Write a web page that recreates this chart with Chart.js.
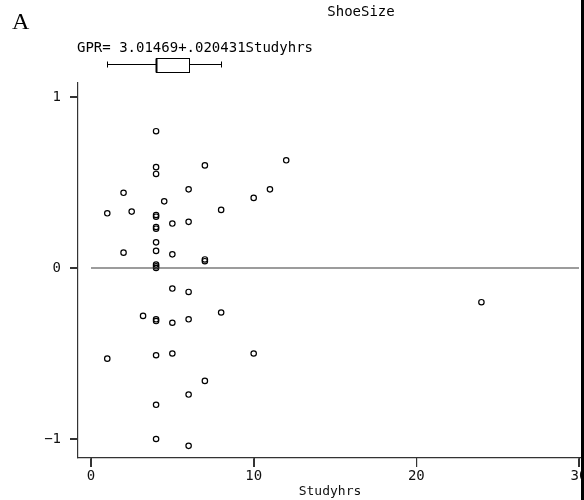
<!DOCTYPE html>
<html>
<head>
<meta charset="utf-8">
<script src="https://cdn.jsdelivr.net/npm/chart.js@4"></script>
<style>
  html, body { margin: 0; padding: 0; background: #fff; overflow: hidden; width: 584px; height: 500px; }
  canvas { display: block; }
</style>
</head>
<body>
<canvas id="myChart" width="600" height="500"></canvas>
<script>
// residuals of ShoeSize vs Studyhrs
const studyHrs = [4, 4, 4, 7, 12, 2, 6, 11, 10, 4.5, 1, 2.5, 8, 4, 4, 4, 4, 5, 6, 4,
  2, 4, 5, 7, 7, 4, 4, 4, 5, 6, 3.2, 4, 4, 5, 6, 8, 1, 4, 5, 10, 7, 6, 4, 4, 6, 24];
const residuals = [0.80, 0.59, 0.55, 0.60, 0.63, 0.44, 0.46, 0.46, 0.41, 0.39, 0.32, 0.33, 0.34, 0.31, 0.30, 0.24, 0.23, 0.26, 0.27, 0.15,
  0.09, 0.10, 0.08, 0.04, 0.05, 0.02, 0.01, 0.00, -0.12, -0.14, -0.28, -0.30, -0.31, -0.32, -0.30, -0.26, -0.53, -0.51, -0.50, -0.50, -0.66, -0.74, -0.80, -1.00, -1.04, -0.20];
const fitX = [0, 30];
const fitY = [0, 0];
// boxplot of Studyhrs: lower whisker, q1, median, q3, upper whisker
const studyBox = [1, 4, 4, 6, 8];
const xTicks = [0, 10, 20, 30];
const yTicks = [-1, 0, 1];
const yTickLabels = ["\u22121", "0", "1"];

const monoFont = "'DejaVu Sans Mono', monospace";

const extrasPlugin = {
  id: "extras",
  afterDraw(chart) {
    const ctx = chart.ctx;
    const xs = chart.scales.x;
    const ys = chart.scales.y;
    const area = chart.chartArea;
    ctx.save();
    // tick marks, outside the axes
    ctx.strokeStyle = "#333";
    ctx.lineWidth = 1;
    ctx.beginPath();
    xTicks.forEach((v) => {
      const px = Math.round(xs.getPixelForValue(v)) + 0.5;
      ctx.moveTo(px, area.bottom);
      ctx.lineTo(px, area.bottom + 9);
    });
    yTicks.forEach((v) => {
      const py = Math.round(ys.getPixelForValue(v)) + 0.5;
      ctx.moveTo(area.left - 8, py);
      ctx.lineTo(area.left, py);
    });
    ctx.stroke();
    // panel letter
    ctx.fillStyle = "#000";
    ctx.font = "24px 'Liberation Serif', serif";
    ctx.textAlign = "left";
    ctx.textBaseline = "alphabetic";
    ctx.fillText("A", 12, 29);
    // title + axis title (the plot is cut off at the right, so centred by hand)
    ctx.font = "14px " + monoFont;
    ctx.textAlign = "center";
    ctx.textBaseline = "middle";
    ctx.fillText("ShoeSize", 361, 12);
    ctx.font = "13px " + monoFont;
    ctx.fillStyle = "#111";
    ctx.fillText("Studyhrs", 330, 492);
    // equation
    ctx.fillStyle = "#000";
    ctx.font = "14px " + monoFont;
    ctx.textAlign = "left";
    ctx.fillText("GPR= 3.01469+.020431Studyhrs", 77, 48);
    // boxplot
    const p = studyBox.map((v) => Math.round(xs.getPixelForValue(v)) + 0.5);
    const yc = 64.5, top = 58.5, bot = 72.5;
    ctx.strokeStyle = "#000";
    ctx.lineWidth = 1;
    ctx.beginPath();
    ctx.moveTo(p[0], yc); ctx.lineTo(p[1], yc);
    ctx.moveTo(p[3], yc); ctx.lineTo(p[4], yc);
    ctx.moveTo(p[0], yc - 3); ctx.lineTo(p[0], yc + 3);
    ctx.moveTo(p[4], yc - 3); ctx.lineTo(p[4], yc + 3);
    ctx.stroke();
    ctx.strokeRect(p[1], top, p[3] - p[1], bot - top);
    ctx.lineWidth = 2;
    ctx.beginPath();
    ctx.moveTo(p[2], top); ctx.lineTo(p[2], bot);
    ctx.stroke();
    // right edge bar
    ctx.fillStyle = "#000";
    ctx.fillRect(581, 0, 3, chart.height);
    ctx.restore();
  },
};

const ctx = document.getElementById("myChart").getContext("2d");
const myChart = new Chart(ctx, {
  type: "scatter",
  data: {
    datasets: [
      {
        type: "line",
        data: fitX.map((x, i) => ({ x: x, y: fitY[i] })),
        borderColor: "#3a3a3a",
        borderWidth: 1.2,
        pointRadius: 0,
        fill: false,
      },
      {
        data: studyHrs.map((x, i) => ({ x: x, y: residuals[i] })),
        pointRadius: 2.7,
        pointBorderWidth: 1.2,
        borderColor: "#000",
        backgroundColor: "rgba(255,255,255,0)",
      },
    ],
  },
  options: {
    responsive: false,
    animation: false,
    devicePixelRatio: 1,
    layout: { autoPadding: false, padding: { top: 83, left: 0, right: 0, bottom: 0 } },
    plugins: {
      legend: { display: false },
      tooltip: { enabled: false },
      title: { display: false },
    },
    scales: {
      x: {
        type: "linear",
        min: -0.8,
        max: 31.29,
        afterBuildTicks: (scale) => {
          scale.ticks = xTicks.map((v) => ({ value: v }));
        },
        afterFit: (scale) => {
          scale.height = 42;
        },
        border: { color: "#333", width: 1.2 },
        grid: { drawOnChartArea: false, drawTicks: true, tickLength: 9, color: "#333", lineWidth: 1.2 },
        ticks: {
          padding: 1,
          color: "#111",
          font: { family: monoFont, size: 14 },
          maxRotation: 0,
          autoSkip: false,
          callback: (v) => String(v),
        },
      },
      y: {
        type: "linear",
        min: -1.111,
        max: 1.082,
        afterBuildTicks: (scale) => {
          scale.ticks = yTicks.map((v) => ({ value: v }));
        },
        afterFit: (scale) => {
          scale.width = 78;
        },
        border: { color: "#333", width: 1.2 },
        grid: { drawOnChartArea: false, drawTicks: true, tickLength: 8, color: "#333", lineWidth: 1.2 },
        ticks: {
          padding: 9,
          color: "#111",
          font: { family: monoFont, size: 14 },
          autoSkip: false,
          callback: (v) => yTickLabels[yTicks.indexOf(v)],
        },
      },
    },
  },
  plugins: [extrasPlugin],
});
</script>
</body>
</html>
